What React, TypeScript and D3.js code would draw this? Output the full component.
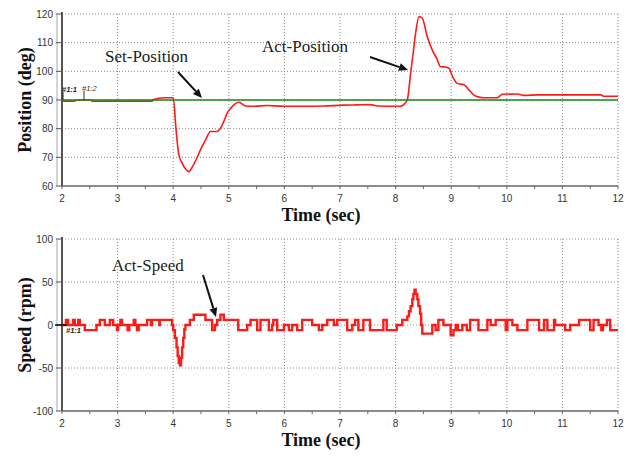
import React from "react";
import * as d3 from "d3";

const xTicks = [2, 3, 4, 5, 6, 7, 8, 9, 10, 11, 12];
const posTicks = [60, 70, 80, 90, 100, 110, 120];
const speedTicks = [-100, -50, 0, 50, 100];
const setPosition = 90;

const posTime = [2.0, 2.23, 2.25, 2.52, 2.54, 3.62, 3.64, 3.72, 3.85, 4.0, 4.05, 4.1, 4.16, 4.22, 4.28, 4.34, 4.42, 4.49, 4.58, 4.67, 4.79, 4.85, 4.92, 4.97, 5.03, 5.09, 5.18, 5.25, 5.3, 5.45, 5.69, 5.99, 6.4, 6.7, 7.06, 7.3, 7.55, 7.67, 8.09, 8.15, 8.21, 8.27, 8.32, 8.36, 8.42, 8.48, 8.57, 8.66, 8.74, 8.81, 8.9, 8.96, 9.03, 9.11, 9.23, 9.32, 9.41, 9.5, 9.59, 9.83, 9.92, 10.19, 10.31, 10.55, 11.69, 11.75, 12.0];
const posValue = [89.6, 89.6, 90, 90, 89.6, 89.6, 90, 90.5, 90.8, 90.8, 80, 71, 68, 66, 65, 66.5, 69.5, 72.6, 76, 79, 79, 80.1, 83, 85.4, 87, 88.3, 89.2, 88.5, 87.9, 87.8, 88.1, 87.8, 87.8, 87.9, 88.2, 88.3, 88.4, 87.9, 87.8, 88.5, 90, 99.3, 107, 113.3, 119.1, 118.5, 112.1, 107.4, 104.5, 101.6, 101.5, 101.0, 98, 95.8, 95.3, 93.5, 91.7, 91, 90.8, 90.8, 92, 92.1, 91.6, 91.8, 91.8, 91.3, 91.3];

const speedTime = [2.0, 2.07, 2.11, 2.2, 2.23, 2.29, 2.32, 2.41, 2.62, 2.68, 2.77, 2.86, 2.92, 2.99, 3.01, 3.05, 3.08, 3.18, 3.21, 3.29, 3.32, 3.35, 3.38, 3.53, 3.6, 3.62, 3.75, 3.76, 3.98, 4.0, 4.03, 4.06, 4.08, 4.1, 4.12, 4.14, 4.16, 4.18, 4.2, 4.22, 4.3, 4.37, 4.58, 4.7, 4.75, 4.79, 4.85, 4.91, 5.17, 5.33, 5.39, 5.51, 5.57, 5.72, 5.78, 5.8, 5.87, 5.99, 6.08, 6.14, 6.23, 6.32, 6.5, 6.62, 6.68, 6.77, 6.89, 6.95, 7.13, 7.22, 7.27, 7.33, 7.42, 7.54, 7.78, 7.84, 8.02, 8.12, 8.21, 8.24, 8.27, 8.3, 8.32, 8.34, 8.36, 8.39, 8.41, 8.44, 8.46, 8.48, 8.66, 8.72, 8.77, 8.86, 8.99, 9.04, 9.08, 9.12, 9.2, 9.28, 9.34, 9.49, 9.65, 9.71, 9.8, 9.98, 10.01, 10.1, 10.19, 10.37, 10.58, 10.67, 10.73, 10.85, 10.87, 11.05, 11.14, 11.3, 11.5, 11.56, 11.65, 11.7, 11.73, 11.8, 11.86, 12.0];
const speedValue = [0, 6, 0, 6, 0, 6, 0, -6, 0, 6, 0, 6, 0, -6, 0, 6, 0, -6, 0, 6, 0, -6, 0, 6, 0, 6, 0, 6, 0, -6, -15, -26, -36, -44, -47, -38, -26, -15, -5, 0, 6, 12, 6, -6, 0, 6, 12, 6, -6, 0, 6, -6, 6, -6, 0, 6, -6, 0, -6, 0, -6, 6, 0, -6, 0, 6, 0, 6, -6, 0, 6, -6, 6, -6, 6, -6, 0, 6, 10, 16, 22, 30, 36, 41, 36, 30, 22, 13, 0, -10, 0, -6, 6, 0, -12, -6, 0, -6, 0, -6, 6, -6, 6, 0, 6, -6, 6, 0, -6, 6, -6, 6, -6, 6, 0, -6, 0, 6, -6, 6, 0, -6, 0, 6, -6, -6];

const X0 = 62, X1 = 618;
const serif = "'Liberation Serif', 'Times New Roman', serif";
const sans = "'Liberation Sans', Arial, sans-serif";

function Panel({ y0, y1, domain, ticks, children }: any) {
  const x = d3.scaleLinear().domain([2, 12]).range([X0, X1]);
  const y = d3.scaleLinear().domain(domain).range([y1, y0]);
  const minor = d3.range(2, 12.01, 0.5);
  return (
    <g>
      {xTicks.slice(1).map((t) => (
        <line key={"gx" + t} x1={x(t)} x2={x(t)} y1={y0} y2={y1} stroke="#8a8a8a" strokeWidth={1} strokeDasharray="1,2" />
      ))}
      {ticks.slice(1).map((t: number) => (
        <line key={"gy" + t} x1={X0} x2={X1} y1={y(t)} y2={y(t)} stroke="#8a8a8a" strokeWidth={1} strokeDasharray="1,2" />
      ))}
      <line x1={X0} x2={X1} y1={y1} y2={y1} stroke="#666" strokeWidth={1.5} />
      {minor.map((t) => (
        <line key={"mt" + t} x1={x(t)} x2={x(t)} y1={y1} y2={y1 + 3} stroke="#666" strokeWidth={1} />
      ))}
      <line x1={X0 - 5} x2={X0 - 5} y1={y0} y2={y1} stroke="#aaa" strokeWidth={1} />
      <line x1={X0} x2={X0} y1={y0 - 2} y2={y1} stroke="#555" strokeWidth={2} />
      {ticks.map((t: number) => (
        <g key={"yt" + t}>
          <line x1={X0 - 6} x2={X0} y1={y(t)} y2={y(t)} stroke="#555" strokeWidth={1} />
          <text x={53} y={y(t) + 3.5} textAnchor="end" fontFamily={sans} fontSize={10} fill="#333">{t}</text>
        </g>
      ))}
      {xTicks.map((t) => (
        <text key={"xt" + t} x={x(t)} y={y1 + 16} textAnchor="middle" fontFamily={sans} fontSize={10} fill="#333">{t}</text>
      ))}
      {children(x, y)}
    </g>
  );
}

function Arrow({ x1, y1, x2, y2 }: any) {
  const a = Math.atan2(y2 - y1, x2 - x1);
  const L = 9, W = 4;
  const bx = x2 - L * Math.cos(a), by = y2 - L * Math.sin(a);
  const p = `${x2},${y2} ${bx + W * Math.sin(a)},${by - W * Math.cos(a)} ${bx - W * Math.sin(a)},${by + W * Math.cos(a)}`;
  return (
    <g>
      <line x1={x1} y1={y1} x2={bx} y2={by} stroke="#111" strokeWidth={2} />
      <polygon points={p} fill="#111" />
    </g>
  );
}

export default function App() {
  const posData = posTime.map((t, i) => [t, posValue[i]] as [number, number]);
  const spData = speedTime.map((t, i) => [t, speedValue[i]] as [number, number]);
  return (
    <svg width={633} height={456} style={{ position: "fixed", left: 0, top: 0, background: "#fff" }}>
      <rect width={633} height={456} fill="#fff" />
      <Panel y0={14} y1={186} domain={[60, 120]} ticks={posTicks}>
        {(x: any, y: any) => {
          const line = d3.line<[number, number]>().x((d) => x(d[0])).y((d) => y(d[1])).curve(d3.curveMonotoneX);
          return (
            <g>
              <path d={line(posData) || ""} fill="none" stroke="#ff1a1a" strokeWidth={1.6} />
              <line x1={x(2)} x2={x(12)} y1={y(setPosition)} y2={y(setPosition)} stroke="#1a8a1a" strokeWidth={1.4} />
              <line x1={63} x2={63} y1={92} y2={y(setPosition)} stroke="#222" strokeWidth={1} />
              <line x1={84} x2={84} y1={91} y2={y(setPosition)} stroke="#333" strokeWidth={1} />
              <text x={62} y={92} fontFamily={sans} fontSize={7.5} fontStyle="italic" fontWeight="bold" fill="#222">#1:1</text>
              <text x={82} y={91} fontFamily={sans} fontSize={7.5} fontStyle="italic" fill="#333">#1:2</text>
            </g>
          );
        }}
      </Panel>
      <Panel y0={239} y1={411} domain={[-100, 100]} ticks={speedTicks}>
        {(x: any, y: any) => {
          const line = d3.line<[number, number]>().x((d) => x(d[0])).y((d) => y(d[1])).curve(d3.curveStepAfter);
          return (
            <g>
              <path d={line(spData) || ""} fill="none" stroke="#ff1a1a" strokeWidth={2.4} />
              <line x1={55} x2={67} y1={y(0)} y2={y(0)} stroke="#111" strokeWidth={1.5} />
              <text x={66} y={333} fontFamily={sans} fontSize={7.5} fontStyle="italic" fontWeight="bold" fill="#222">#1:1</text>
            </g>
          );
        }}
      </Panel>
      <text transform="translate(31,100) rotate(-90)" textAnchor="middle" fontFamily={serif} fontWeight="bold" fontSize={18} fill="#111">Position (deg)</text>
      <text transform="translate(31,325) rotate(-90)" textAnchor="middle" fontFamily={serif} fontWeight="bold" fontSize={18} fill="#111">Speed (rpm)</text>
      <text x={321} y={221} textAnchor="middle" fontFamily={serif} fontWeight="bold" fontSize={18} fill="#111">Time (sec)</text>
      <text x={321} y={446} textAnchor="middle" fontFamily={serif} fontWeight="bold" fontSize={18} fill="#111">Time (sec)</text>
      <text x={105} y={62} fontFamily={serif} fontSize={17} fill="#222">Set-Position</text>
      <Arrow x1={178} y1={72} x2={202} y2={98} />
      <text x={262} y={52} fontFamily={serif} fontSize={17} fill="#222">Act-Position</text>
      <Arrow x1={370} y1={57} x2={408} y2={70} />
      <text x={112} y={271} fontFamily={serif} fontSize={17} fill="#222">Act-Speed</text>
      <Arrow x1={203} y1={275} x2={216} y2={317} />
    </svg>
  );
}
